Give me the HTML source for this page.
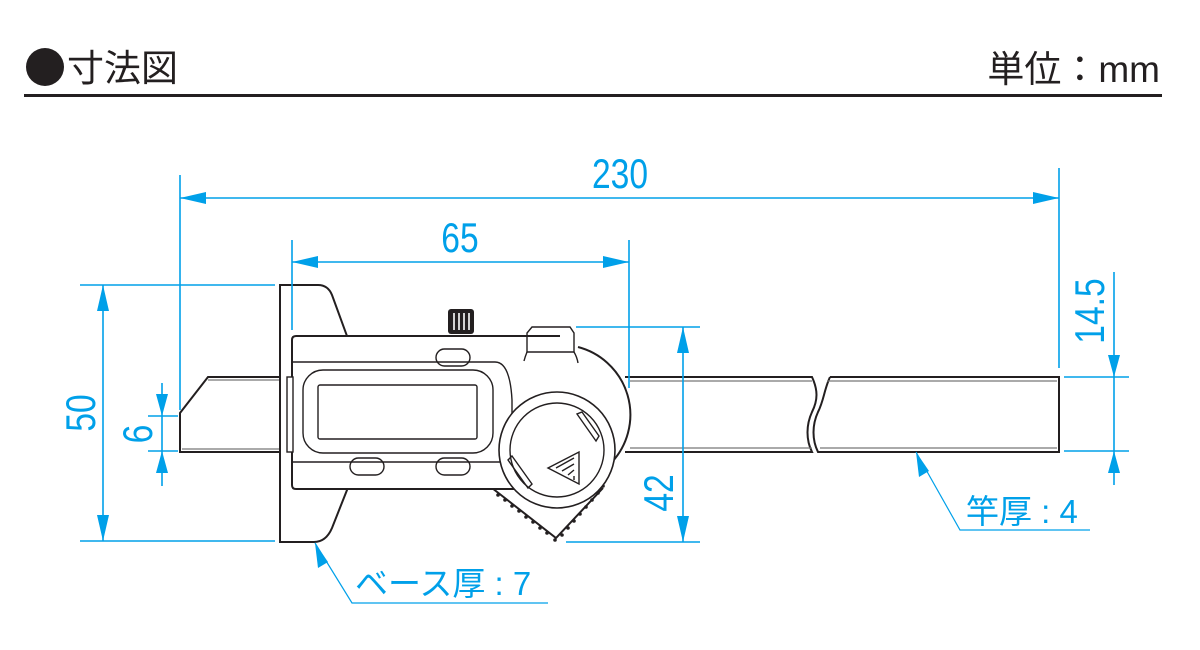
<!DOCTYPE html>
<html><head><meta charset="utf-8"><style>
body{margin:0;background:#fff;width:1200px;height:650px;overflow:hidden}
svg{display:block}
.b{fill:none;stroke:#231f20;stroke-width:2}
.t{fill:none;stroke:#231f20;stroke-width:1.4}
.d{stroke:#00a0e9;stroke-width:1.6;fill:none}
.a{fill:#00a0e9}
.n{font-family:"Liberation Sans","Noto Sans CJK JP",sans-serif;fill:#00a0e9}
</style></head><body>
<svg width="1200" height="650" viewBox="0 0 1200 650">
<!-- header -->
<circle cx="45" cy="67" r="19" fill="#231f20"/>
<text x="67" y="81" font-family="Liberation Sans,'Noto Sans CJK JP',sans-serif" font-size="37" fill="#231f20">寸法図</text>
<text x="1160" y="82" text-anchor="end" font-family="Liberation Sans,'Noto Sans CJK JP',sans-serif" font-size="37" fill="#231f20">単位：mm</text>
<rect x="24" y="94" width="1138" height="3" fill="#231f20"/>

<!-- rod -->
<path class="b" d="M292,377 H208 L180,413 V452 H292"/>
<line x1="208" y1="380" x2="292" y2="380" stroke="#777" stroke-width="1.2"/>
<line x1="182" y1="449" x2="292" y2="449" stroke="#777" stroke-width="1.2"/>
<path class="b" d="M625,377 H812 C818,390 818,400 812,412 C806,425 806,440 812,452 H625"/>
<path class="b" d="M830,377 H1059 V452 H818 C812,440 812,425 818,412 C824,400 824,390 830,377"/>
<line x1="630" y1="381" x2="812" y2="381" stroke="#777" stroke-width="1.2"/>
<line x1="630" y1="448" x2="812" y2="448" stroke="#777" stroke-width="1.2"/>
<line x1="827" y1="381" x2="1057" y2="381" stroke="#777" stroke-width="1.2"/>
<line x1="820" y1="448" x2="1057" y2="448" stroke="#777" stroke-width="1.2"/>

<!-- base -->
<path d="M280,285 H318 Q328,285 332,295 L347,336 V490 L332,528 Q326,542 314,542 H280 Z" fill="#fff" stroke="#231f20" stroke-width="2"/>

<!-- gear -->
<path fill="#fff" stroke="#231f20" stroke-width="2" d="M492,488 L556,538 L603,488"/>
<g fill="#231f20">
<circle cx="498" cy="495" r="1.8"/><circle cx="505" cy="500" r="1.8"/><circle cx="512" cy="506" r="1.8"/><circle cx="519" cy="511" r="1.8"/><circle cx="526" cy="517" r="1.8"/><circle cx="533" cy="522" r="1.8"/><circle cx="540" cy="528" r="1.8"/><circle cx="547" cy="533" r="1.8"/><circle cx="555" cy="540" r="1.8"/>
<circle cx="562" cy="535" r="1.8"/><circle cx="568" cy="528" r="1.8"/><circle cx="574" cy="521" r="1.8"/><circle cx="580" cy="514" r="1.8"/><circle cx="586" cy="507" r="1.8"/><circle cx="592" cy="500" r="1.8"/><circle cx="598" cy="493" r="1.8"/><circle cx="603" cy="486" r="1.8"/>
</g>

<!-- big round body -->
<circle cx="560" cy="415" r="70" fill="#fff"/>
<path class="b" d="M578,347 A70,70 0 0 1 612,462"/>
<!-- body -->
<path d="M296,336 H560 V489 H296 Q292,489 292,485 V340 Q292,336 296,336 Z" fill="#fff"/>
<path d="M560,336 H296 Q292,336 292,340 V485 Q292,489 296,489 H520" fill="none" stroke="#231f20" stroke-width="2"/>
<rect x="287" y="377" width="6" height="75" fill="#fff" stroke="#231f20" stroke-width="1.4"/>
<path class="t" d="M293,362 H495 Q510,362 512,400 V462 H293"/>
<rect x="303" y="370" width="190" height="83" rx="20" class="t"/>
<rect x="318" y="385" width="159" height="54" rx="2" class="t"/>
<rect x="436" y="349" width="34" height="17" rx="8.5" class="t" fill="#fff"/>
<rect x="350" y="458" width="34" height="17" rx="8.5" class="t" fill="#fff"/>
<rect x="436" y="458" width="34" height="17" rx="8.5" class="t" fill="#fff"/>
<!-- thumb roller -->
<rect x="448" y="309" width="26" height="25" rx="3" fill="#231f20"/>
<g stroke="#fff" stroke-width="1.6"><line x1="454" y1="313" x2="454" y2="330"/><line x1="459" y1="313" x2="459" y2="330"/><line x1="464" y1="313" x2="464" y2="330"/><line x1="469" y1="313" x2="469" y2="330"/></g>
<!-- clamp -->
<path class="t" fill="#fff" d="M527,352 V333 L532,327 H570 L574,333 V352 Z"/>
<path class="t" d="M527,352 Q525,357 524,361 M574,352 Q577,357 578,363"/>
<!-- knob -->
<circle cx="557" cy="450" r="58" fill="#fff" stroke="#231f20" stroke-width="1.6"/>
<circle cx="557" cy="450" r="47" class="t"/>
<path class="t" d="M582,412 L599,436 L596,441 L577,414 Z"/>
<path class="t" d="M512,456 L532,484 L528,488 L508,460 Z"/>
<path class="t" d="M579,452 V484 L548,468 Z M574,458 L556,468 M574,464 L562,471 M574,470 L568,475 M574,476 V480"/>

<!-- dimensions -->
<g class="d">
<line x1="180" y1="175" x2="180" y2="410"/>
<line x1="1059" y1="168" x2="1059" y2="368"/>
<line x1="180" y1="198" x2="1059" y2="198"/>
<line x1="292" y1="240" x2="292" y2="330"/>
<line x1="629" y1="240" x2="629" y2="388"/>
<line x1="292" y1="262" x2="629" y2="262"/>
<line x1="80" y1="285" x2="275" y2="285"/>
<line x1="80" y1="541" x2="275" y2="541"/>
<line x1="103" y1="285" x2="103" y2="541"/>
<line x1="148" y1="416" x2="178" y2="416"/>
<line x1="148" y1="451" x2="178" y2="451"/>
<line x1="162" y1="383" x2="162" y2="486"/>
<line x1="576" y1="327" x2="700" y2="327"/>
<line x1="566" y1="542" x2="700" y2="542"/>
<line x1="683" y1="327" x2="683" y2="542"/>
<line x1="1064" y1="377" x2="1129" y2="377"/>
<line x1="1064" y1="451" x2="1129" y2="451"/>
<line x1="1114" y1="272" x2="1114" y2="485"/>
<polyline points="916,452 960,530 1090,530" stroke-width="1.2"/>
<polyline points="315,543 352,603 548,603" stroke-width="1.2"/>
</g>
<g class="a">
<path d="M180,198 l26,-6 v12z"/><path d="M1059,198 l-26,-6 v12z"/>
<path d="M292,262 l26,-6 v12z"/><path d="M629,262 l-26,-6 v12z"/>
<path d="M103,285 l-6,26 h12z"/><path d="M103,541 l-6,-26 h12z"/>
<path d="M162,416 l-6,-22 h12z"/><path d="M162,451 l-6,22 h12z"/>
<path d="M683,327 l-6,26 h12z"/><path d="M683,542 l-6,-26 h12z"/>
<path d="M1114,377 l-6,-22 h12z"/><path d="M1114,451 l-6,22 h12z"/>
<path d="M916,452 l3,25 l10,-6z"/>
<path d="M315,543 l3,25 l10,-6z"/>
</g>
<g class="n" font-size="42">
<text x="620" y="188" text-anchor="middle" transform="translate(620 0) scale(0.8 1) translate(-620 0)">230</text>
<text x="460" y="252" text-anchor="middle" transform="translate(460 0) scale(0.8 1) translate(-460 0)">65</text>
<text transform="translate(95 413) rotate(-90) scale(0.8 1)" text-anchor="middle">50</text>
<text transform="translate(152 434) rotate(-90) scale(0.8 1)" text-anchor="middle">6</text>
<text transform="translate(673 493) rotate(-90) scale(0.8 1)" text-anchor="middle">42</text>
<text transform="translate(1104 311) rotate(-90) scale(0.8 1)" text-anchor="middle">14.5</text>
</g>
<text class="n" x="966" y="523" font-size="33">竿厚 : 4</text>
<text class="n" x="355" y="595" font-size="33">ベース厚 : 7</text>
</svg>
</body></html>
